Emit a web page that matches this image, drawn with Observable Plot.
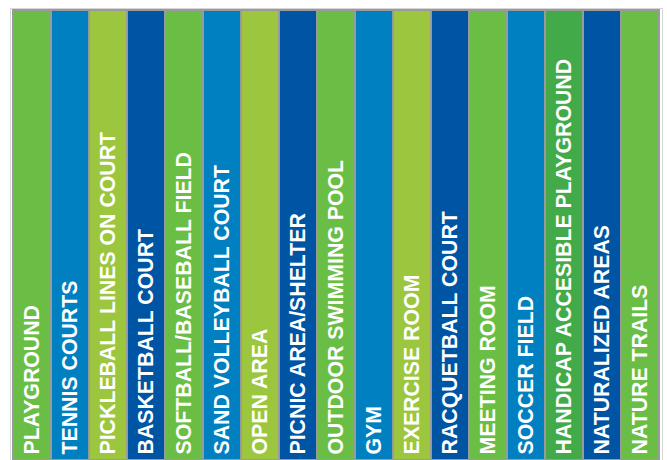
<!DOCTYPE html>
<html>
<head>
<meta charset="utf-8">
<script src="https://cdn.jsdelivr.net/npm/d3@7"></script>
<script src="https://cdn.jsdelivr.net/npm/@observablehq/plot@0.6"></script>
<style>
html, body { margin: 0; padding: 0; background: #fff; }
</style>
</head>
<body>
<div id="chart"></div>
<script>
const categories = ["PLAYGROUND", "TENNIS COURTS", "PICKLEBALL LINES ON COURT", "BASKETBALL COURT", "SOFTBALL/BASEBALL FIELD", "SAND VOLLEYBALL COURT", "OPEN AREA", "PICNIC AREA/SHELTER", "OUTDOOR SWIMMING POOL", "GYM", "EXERCISE ROOM", "RACQUETBALL COURT", "MEETING ROOM", "SOCCER FIELD", "HANDICAP ACCESIBLE PLAYGROUND", "NATURALIZED AREAS", "NATURE TRAILS"];
const values = [1, 1, 1, 1, 1, 1, 1, 1, 1, 1, 1, 1, 1, 1, 1, 1, 1];
const colors = ["#6abd45", "#0080c1", "#9cc63d", "#0054a4", "#6abd45", "#0080c1", "#9cc63d", "#0054a4", "#6abd45", "#0080c1", "#9cc63d", "#0054a4", "#6abd45", "#0080c1", "#43aa4a", "#0054a4", "#6abd45"];

const data = categories.map((c, i) => ({ category: c, value: values[i], color: colors[i] }));

const chart = Plot.plot({
  width: 667,
  height: 460,
  marginTop: 10,
  marginLeft: 12,
  marginRight: 7,
  marginBottom: 0,
  x: { domain: categories, padding: 0, axis: null },
  y: { domain: [0, 1], axis: null },
  style: { fontFamily: "Liberation Sans, Arial, sans-serif", background: "#fff" },
  marks: [
    Plot.frame({ stroke: "#d6d6d6", strokeWidth: 1, inset: -2 }),
    Plot.barY(data, { x: "category", y: "value", fill: "color", stroke: "#9a9a9a", strokeWidth: 2 }),
    Plot.text(data, {
      x: "category",
      y: 0,
      text: "category",
      rotate: -90,
      textAnchor: "start",
      lineAnchor: "middle",
      fill: "#fff",
      fontSize: 21.3,
      fontWeight: "bold",
      dy: -6
    })
  ]
});
document.getElementById("chart").appendChild(chart);
</script>
</body>
</html>
